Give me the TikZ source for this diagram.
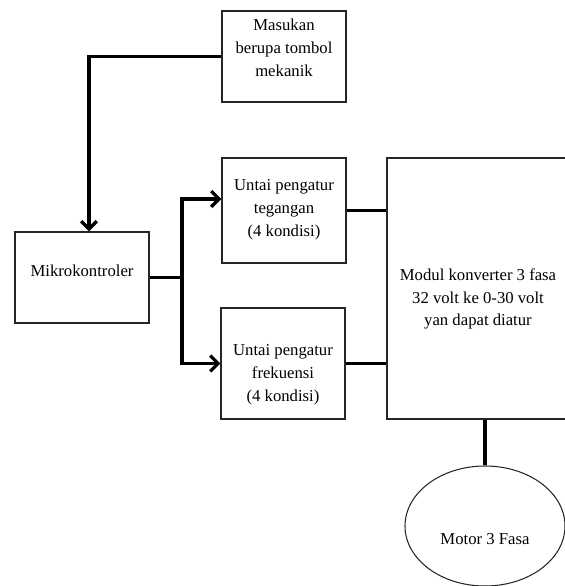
\documentclass[tikz,border=0pt]{standalone}
\usepackage{fontspec}
\setmainfont{Liberation Serif}
\usetikzlibrary{arrows.meta,positioning,shapes.geometric}

\begin{document}
\begin{tikzpicture}[
            every node/.style={font=\fontsize{9.5}{13}\selectfont},
            blk/.style={draw=black!85, line width=0.6pt, fill=white, inner sep=0pt},
            txt/.style={align=center, inner sep=1pt},
            sig/.style={-{Straight Barb[length=4.5pt,width=9pt]}, line width=1.9pt},
            lnk/.style={line width=1.5pt}
        ]
        \useasboundingbox (0,0) rectangle (11.30,11.72);

        % ================= blok-blok =================
        \node[blk, minimum width=2.48cm, minimum height=1.82cm] (inp) at (5.68,10.59) {};
        \node[txt] (inptxt) at (5.68,10.76) {Masukan\\berupa tombol\\mekanik};

        \node[blk, minimum width=2.68cm, minimum height=1.82cm] (mcu) at (1.64,6.17) {};
        \node[txt] (mcutxt) at (1.64,6.30) {Mikrokontroler};

        \node[blk, minimum width=2.48cm, minimum height=2.10cm] (teg) at (5.68,7.51) {};
        \node[txt] (tegtxt) at (5.68,7.53) {Untai pengatur\\tegangan\\(4 kondisi)};

        \node[blk, minimum width=2.48cm, minimum height=2.22cm] (frek) at (5.66,4.45) {};
        \node[txt] (frektxt) at (5.66,4.22) {Untai pengatur\\frekuensi\\(4 kondisi)};

        \node[blk, minimum width=3.64cm, minimum height=5.22cm] (mod) at (9.56,5.95) {};
        \node[txt] (modtxt) at (9.56,5.74) {Modul konverter 3 fasa\\32 volt ke 0-30 volt\\yan dapat diatur};

        \node[blk, ellipse, minimum width=3.20cm, minimum height=2.40cm] (motor) at (9.70,1.20) {};
        \node[txt] (motortxt) at (9.70,0.94) {Motor 3 Fasa};

        % ================= masukan ke mikrokontroler =================
        \draw[sig] (inp.west) -| ([xshift=0.14cm]mcu.north);

        % ================= percabangan keluaran =================
        \coordinate (bus) at (3.64,6.00);
        \draw[sig] (mcu.east) -- (mcu.east -| bus) |- ([yshift=0.23cm]teg.west);
        \draw[sig] (mcu.east -| bus) |- (frek.west);

        % ================= ke modul dan motor =================
        \draw[lnk] (teg.east) -- (teg.east -| mod.west);
        \draw[lnk] (frek.east) -- (frek.east -| mod.west);
        \draw[sig, -] (motor.north |- mod.south) -- (motor.north);

    \end{tikzpicture}
\end{document}
